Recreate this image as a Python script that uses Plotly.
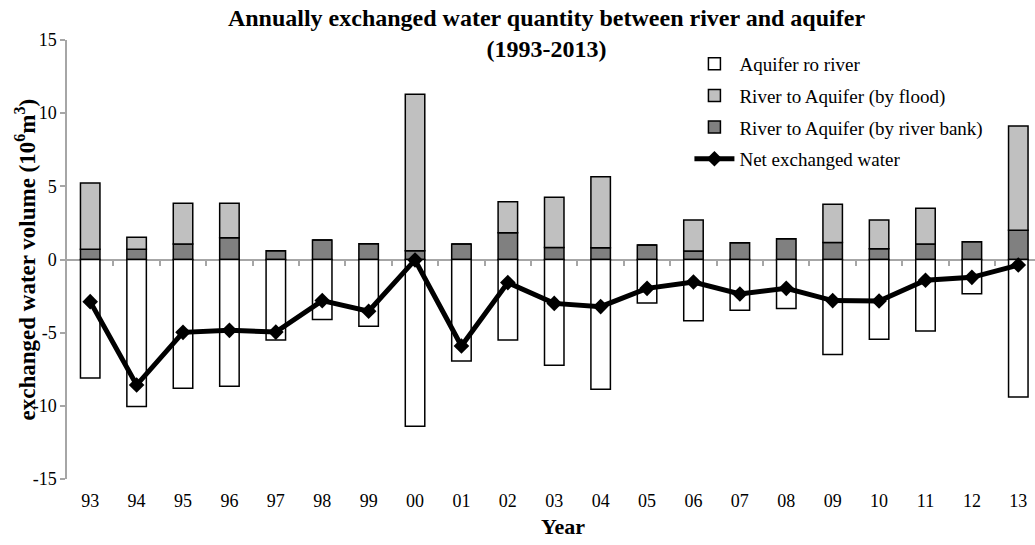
import plotly.graph_objects as go

years = ["93", "94", "95", "96", "97", "98", "99", "00", "01", "02", "03",
         "04", "05", "06", "07", "08", "09", "10", "11", "12", "13"]
aquifer_to_river = [-8.1, -10.05, -8.8, -8.67, -5.5, -4.1, -4.57, -11.4, -6.94, -5.5, -7.23,
                    -8.87, -2.97, -4.18, -3.47, -3.34, -6.5, -5.45, -4.89, -2.34, -9.4]
river_bank = [0.7, 0.7, 1.06, 1.49, 0.6, 1.33, 1.08, 0.6, 1.06, 1.83, 0.82,
              0.8, 0.99, 0.58, 1.15, 1.42, 1.17, 0.74, 1.06, 1.22, 2.0]
river_flood = [4.53, 0.82, 2.78, 2.35, 0.0, 0.0, 0.0, 10.7, 0.0, 2.12, 3.43,
               4.86, 0.0, 2.12, 0.0, 0.0, 2.6, 1.96, 2.44, 0.0, 7.12]
net_exchange = [-2.88, -8.58, -4.98, -4.84, -4.96, -2.81, -3.54, -0.03, -5.91, -1.58, -3.0,
                -3.22, -1.97, -1.54, -2.36, -1.97, -2.81, -2.84, -1.42, -1.22, -0.38]
y_tick_values = [-15, -10, -5, 0, 5, 10, 15]
y_tick_labels = ["-15", "-10", "-5", "0", "5", "10", "15"]

title_text = "Annually exchanged water quantity between river and aquifer<br>(1993-2013)"
x_title = "Year"
y_title = "exchanged water volume (10<sup>6</sup>m<sup>3</sup>)"

pos = list(range(len(years)))
bounds = [i + 0.5 for i in pos[:-1]]
FONT = "Liberation Serif"
BW = 0.42
GRAY = "#a6a6a6"

fig = go.Figure()
fig.add_trace(go.Bar(x=pos, y=river_bank, name="River to Aquifer (by river bank)",
                     marker=dict(color="#808080", line=dict(color="black", width=1.5)),
                     width=BW, legendrank=3, legendgroup="c"))
fig.add_trace(go.Bar(x=pos, y=river_flood, name="River to Aquifer (by flood)",
                     marker=dict(color="#c0c0c0", line=dict(color="black", width=1.5)),
                     width=BW, legendrank=2, legendgroup="b"))
fig.add_trace(go.Bar(x=pos, y=aquifer_to_river, name="Aquifer ro river",
                     marker=dict(color="white", line=dict(color="black", width=1.5)),
                     width=BW, legendrank=1, legendgroup="a"))
fig.add_trace(go.Scatter(x=pos, y=net_exchange, name="Net exchanged water", mode="lines+markers",
                         line=dict(color="black", width=5),
                         marker=dict(symbol="diamond", size=12, color="black"),
                         legendrank=4, legendgroup="d"))
# helper trace for the boundary-tick axis drawn along zero
fig.add_trace(go.Scatter(x=[0], y=[0], xaxis="x2", mode="markers",
                         marker=dict(opacity=0), showlegend=False, hoverinfo="skip"))

fig.update_layout(
    width=1035, height=545,
    margin=dict(l=67, r=0, t=40, b=66, autoexpand=False),
    paper_bgcolor="white", plot_bgcolor="white",
    barmode="relative",
    font=dict(family=FONT, size=18, color="black"),
    title=dict(text=title_text, x=0.528, xanchor="center", yref="container", y=0.953, yanchor="top",
               font=dict(family=FONT, size=24, weight="bold", color="black")),
    xaxis=dict(range=[-0.5, 20.36], tickvals=pos, ticktext=years, showline=False,
               ticks="", showgrid=False, zeroline=False, ticklabelstandoff=9, automargin=False),
    xaxis2=dict(overlaying="x", matches="x", anchor="free", position=0.5, side="bottom",
                tickvals=bounds, ticks="outside", ticklen=5, tickwidth=1.5, tickcolor=GRAY,
                showticklabels=False, showline=False, showgrid=False, zeroline=False),
    yaxis=dict(range=[-15, 15], tickvals=y_tick_values, ticktext=y_tick_labels,
               showline=True, linecolor=GRAY, linewidth=1.5,
               ticks="outside", ticklen=5, tickcolor=GRAY, tickwidth=1.5, automargin=False,
               showgrid=False, zeroline=True, zerolinecolor=GRAY, zerolinewidth=2),
    legend=dict(x=0.643, y=0.989, xanchor="left", yanchor="top", bgcolor="rgba(0,0,0,0)",
                font=dict(family=FONT, size=19), traceorder="grouped", tracegroupgap=4,
                itemwidth=40),
    showlegend=True,
    annotations=[
        dict(text=x_title, xref="paper", yref="paper", x=0.512, y=-0.109,
             xanchor="center", yanchor="middle", showarrow=False,
             font=dict(family=FONT, size=22, weight="bold")),
        dict(text=y_title, xref="paper", yref="paper", x=-0.0424, y=0.5,
             xanchor="center", yanchor="middle", textangle=-90, showarrow=False,
             font=dict(family=FONT, size=23, weight="bold")),
    ],
)

fig.write_html("out.html", config={"displayModeBar": False},
               post_script="document.body.style.margin='0';")
